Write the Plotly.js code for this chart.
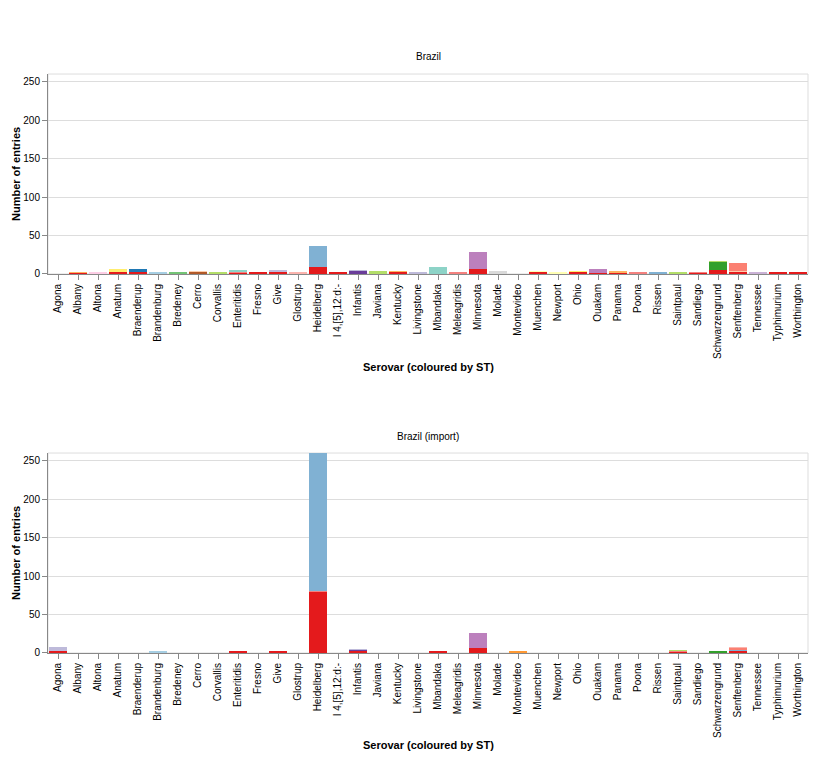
<!DOCTYPE html>
<html>
<head>
<meta charset="utf-8">
<script src="https://cdn.plot.ly/plotly-3.0.1.min.js"></script>
<style>
  body { margin: 0; background: #fff; }
  #plot { width: 823px; height: 760px; }
</style>
</head>
<body>
<div id="plot"></div>
<script>
// Serovars on the x axis (same for both panels)
var serovars = ["Agona", "Albany", "Altona", "Anatum", "Braenderup", "Brandenburg", "Bredeney",
  "Cerro", "Corvallis", "Enteritidis", "Fresno", "Give", "Glostrup", "Heidelberg",
  "I 4,[5],12:d:-", "Infantis", "Javiana", "Kentucky", "Livingstone", "Mbandaka",
  "Meleagridis", "Minnesota", "Molade", "Montevideo", "Muenchen", "Newport", "Ohio",
  "Ouakam", "Panama", "Poona", "Rissen", "Saintpaul", "Sandiego", "Schwarzengrund",
  "Senftenberg", "Tennessee", "Typhimurium", "Worthington"];

// ST groups and their colours
var stNames  = ["red", "rose", "orange", "orange2", "yellow", "navy", "skyblue", "green", "brown",
  "lime", "teal", "lavender", "pink", "blush", "steel", "violet", "orchid", "grey", "cream",
  "forest", "salmon", "tan", "lilac"];
var stColors = ["#e41a1c", "#f4817f", "#fdb462", "#ff9933", "#ffed6f", "#1f78b4", "#a6cee3", "#74c476", "#b15928",
  "#b3de69", "#8dd3c7", "#bebada", "#fccde5", "#fbb4ae", "#80b1d3", "#6a3d9a", "#bc80bd", "#d9d9d9", "#ffffb3",
  "#33a02c", "#fb8072", "#fdcdac", "#cab2d6"];

// Brazil: stacked segments, bottom to top
var brazilSerovar = ["Albany", "Albany", "Altona", "Anatum", "Anatum", "Anatum",
  "Braenderup", "Braenderup", "Braenderup", "Brandenburg", "Bredeney", "Cerro", "Cerro", "Corvallis",
  "Enteritidis", "Enteritidis", "Enteritidis", "Fresno", "Give", "Give", "Give", "Glostrup",
  "Heidelberg", "Heidelberg", "Heidelberg", "I 4,[5],12:d:-", "Infantis", "Infantis", "Javiana",
  "Kentucky", "Kentucky", "Livingstone", "Mbandaka", "Meleagridis", "Minnesota", "Minnesota", "Minnesota",
  "Molade", "Muenchen", "Muenchen", "Newport", "Ohio", "Ohio", "Ohio", "Ouakam", "Ouakam",
  "Panama", "Panama", "Poona", "Rissen", "Saintpaul", "Sandiego", "Sandiego", "Sandiego",
  "Schwarzengrund", "Schwarzengrund", "Schwarzengrund", "Senftenberg", "Senftenberg", "Senftenberg",
  "Tennessee", "Typhimurium", "Typhimurium", "Worthington", "Worthington"];
var brazilST = ["red", "orange", "pink", "red", "rose", "yellow",
  "red", "rose", "navy", "skyblue", "green", "brown", "tan", "lime",
  "red", "rose", "teal", "red", "red", "rose", "lavender", "blush",
  "red", "steel", "skyblue", "red", "violet", "lavender", "lime",
  "red", "orange", "lavender", "teal", "rose", "red", "orchid", "lilac",
  "grey", "red", "cream", "cream", "red", "orange", "yellow", "red", "orchid",
  "red", "orange", "rose", "steel", "lime", "red", "rose", "pink",
  "red", "forest", "lime", "red", "tan", "salmon",
  "lilac", "red", "orange2", "red", "lime"];
var brazilCount = [1, 2, 3, 2, 1, 3,
  2, 1, 3, 3, 3, 3, 1, 3,
  1, 1, 3, 2, 2, 1, 2, 2,
  9, 27, 1, 2, 4, 1, 4,
  2, 2, 2, 9, 2, 6, 22, 1,
  4, 3, 1, 3, 2, 1, 1, 1, 5,
  1, 3, 2, 3, 3, 1, 1, 1,
  5, 11, 1, 2, 2, 10,
  3, 2, 1, 2, 1];

// Brazil (import): stacked segments, bottom to top
var importSerovar = ["Agona", "Agona", "Agona", "Brandenburg", "Enteritidis", "Give",
  "Heidelberg", "Heidelberg", "Heidelberg", "Infantis", "Infantis", "Infantis", "Mbandaka",
  "Minnesota", "Minnesota", "Montevideo", "Saintpaul", "Saintpaul", "Saintpaul", "Schwarzengrund",
  "Senftenberg", "Senftenberg", "Senftenberg", "Senftenberg"];
var importST = ["red", "rose", "lavender", "skyblue", "red", "red",
  "red", "rose", "steel", "red", "violet", "lavender", "red",
  "red", "orchid", "orange2", "red", "rose", "lime", "forest",
  "red", "steel", "salmon", "blush"];
var importCount = [2, 1, 5, 2, 2, 2,
  79, 1, 180, 2, 2, 1, 2,
  6, 20, 2, 1, 1, 2, 2,
  2, 2, 2, 2];

var font = "Liberation Sans, Arial, Helvetica, sans-serif";

// one trace per segment so the stacking order follows the data order
function segments(sv, st, n, xa, ya) {
  return sv.map(function (s, i) {
    return {
      type: "bar",
      x: [s],
      y: [n[i]],
      xaxis: xa,
      yaxis: ya,
      name: "ST " + st[i],
      legendgroup: st[i],
      showlegend: false,
      marker: { color: stColors[stNames.indexOf(st[i])], line: { width: 0 } },
      hovertemplate: "%{x}<br>%{y}<extra>" + st[i] + "</extra>"
    };
  });
}

var traceData = segments(brazilSerovar, brazilST, brazilCount, "x", "y")
  .concat(segments(importSerovar, importST, importCount, "x2", "y2"));

function xAxis(anchor) {
  return {
    anchor: anchor,
    domain: [0, 1],
    type: "category",
    categoryorder: "array",
    categoryarray: serovars,
    range: [-0.5, serovars.length - 0.5],
    tickangle: -90,
    ticks: "outside",
    ticklen: 5,
    tickcolor: "#888",
    showline: true,
    linecolor: "#888",
    showgrid: false,
    tickfont: { size: 10, color: "#000" }
  };
}

function yAxis(anchor, dom) {
  return {
    anchor: anchor,
    domain: dom,
    range: [0, 260],
    tickvals: [0, 50, 100, 150, 200, 250],
    ticks: "outside",
    ticklen: 5,
    tickcolor: "#888",
    showline: true,
    linecolor: "#888",
    gridcolor: "#ddd",
    zeroline: false,
    tickfont: { size: 10, color: "#000" }
  };
}

var bold = { family: font, size: 11, color: "#000", weight: "bold" };
var plain = { family: font, size: 10, color: "#000" };

// place a text at pixel position (px from left of plot area, py from top of page)
function label(text, x, py, f, angle) {
  return { text: text, xref: "paper", yref: "paper", x: x, y: (760 - py) / 760,
    xanchor: "center", yanchor: "middle", textangle: angle || 0, showarrow: false, font: f };
}

var layout = {
  width: 823,
  height: 760,
  margin: { l: 48, r: 15, t: 0, b: 0 },
  barmode: "stack",
  bargap: 0.1,
  font: { family: font },
  paper_bgcolor: "#fff",
  plot_bgcolor: "#fff",
  xaxis: xAxis("y"),
  yaxis: yAxis("x", [0.6395, 0.9026]),
  xaxis2: xAxis("y2"),
  yaxis2: yAxis("x2", [0.1408, 0.4039]),
  shapes: [
    { type: "rect", xref: "x domain", yref: "y domain", x0: 0, x1: 1, y0: 0, y1: 1,
      line: { color: "#ddd", width: 1 }, layer: "below" },
    { type: "rect", xref: "x2 domain", yref: "y2 domain", x0: 0, x1: 1, y0: 0, y1: 1,
      line: { color: "#ddd", width: 1 }, layer: "below" }
  ],
  annotations: [
    label("Brazil", 0.5, 57, plain),
    label("Brazil (import)", 0.5, 437, plain),
    label("Serovar (coloured by ST)", 0.5, 367, bold),
    label("Serovar (coloured by ST)", 0.5, 745, bold),
    label("Number of entries", -32 / 760, 174, bold, -90),
    label("Number of entries", -32 / 760, 553, bold, -90)
  ]
};

Plotly.newPlot("plot", traceData, layout, { displayModeBar: false, staticPlot: true });
</script>
</body>
</html>
